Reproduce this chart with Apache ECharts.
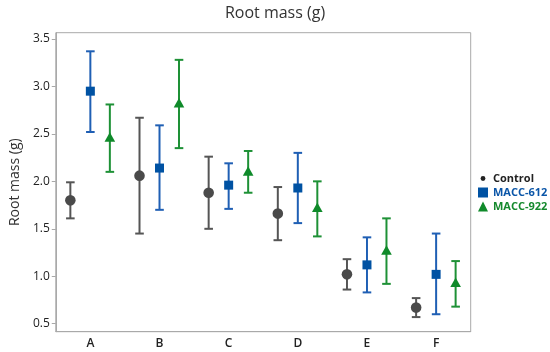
<!DOCTYPE html>
<html>
<head>
<meta charset="utf-8">
<script src="https://cdn.jsdelivr.net/npm/echarts@6/dist/echarts.min.js"></script>
<style>html,body{margin:0;padding:0;background:#fff}#c{width:550px;height:352px}</style>
</head>
<body>
<div id="c"></div>
<script>
const categories = ['A', 'B', 'C', 'D', 'E', 'F'];
const yTicks = [0.5, 1.0, 1.5, 2.0, 2.5, 3.0, 3.5];

const controlMean = [1.80, 2.06, 1.88, 1.66, 1.02, 0.67];
const controlLow  = [1.61, 1.45, 1.50, 1.38, 0.86, 0.57];
const controlHigh = [1.99, 2.67, 2.26, 1.94, 1.18, 0.77];

const macc612Mean = [2.95, 2.14, 1.96, 1.93, 1.12, 1.02];
const macc612Low  = [2.52, 1.70, 1.71, 1.56, 0.83, 0.60];
const macc612High = [3.37, 2.59, 2.19, 2.30, 1.41, 1.45];

const macc922Mean = [2.46, 2.82, 2.10, 1.72, 1.27, 0.93];
const macc922Low  = [2.10, 2.35, 1.88, 1.42, 0.92, 0.68];
const macc922High = [2.81, 3.28, 2.32, 2.00, 1.61, 1.16];

function rows(mean, low, high) {
  return categories.map((c, i) => [i, low[i], mean[i], high[i]]);
}

function makeRender(offset, shape, lineColor, fillColor) {
  return function (params, api) {
    const idx = api.value(0);
    const pLow = api.coord([idx, api.value(1)]);
    const pMean = api.coord([idx, api.value(2)]);
    const pHigh = api.coord([idx, api.value(3)]);
    const x = pMean[0] + offset;
    const lw = 2, cap = 4.3;
    const ls = { stroke: lineColor, lineWidth: lw };
    const children = [
      { type: 'line', shape: { x1: x, y1: pHigh[1], x2: x, y2: pLow[1] }, style: ls },
      { type: 'line', shape: { x1: x - cap, y1: pHigh[1], x2: x + cap, y2: pHigh[1] }, style: ls },
      { type: 'line', shape: { x1: x - cap, y1: pLow[1], x2: x + cap, y2: pLow[1] }, style: ls }
    ];
    const y = pMean[1];
    if (shape === 'circle') {
      children.push({ type: 'circle', shape: { cx: x, cy: y, r: 5.3 }, style: { fill: fillColor } });
    } else if (shape === 'rect') {
      children.push({ type: 'rect', shape: { x: x - 4.5, y: y - 4.5, width: 9, height: 9 }, style: { fill: fillColor } });
    } else {
      children.push({ type: 'polygon', shape: { points: [[x, y - 5.5], [x + 5.3, y + 4], [x - 5.3, y + 4]] }, style: { fill: fillColor } });
    }
    return { type: 'group', children: children };
  };
}

const ctrlIcon = 'image://data:image/svg+xml;utf8,' + encodeURIComponent('<svg xmlns="http://www.w3.org/2000/svg" width="10" height="10"><circle cx="5" cy="5" r="2.4" fill="#222"/></svg>');

const chart = echarts.init(document.getElementById('c'), null, { renderer: 'canvas' });
chart.setOption({
  animation: false,
  textStyle: { fontFamily: 'Open Sans' },
  title: {
    text: 'Root mass (g)', left: 'center', top: 0,
    textStyle: { fontSize: 16, fontWeight: 'normal', color: '#333', fontFamily: 'Open Sans' }
  },
  legend: {
    orient: 'vertical', left: 473, top: 168, itemWidth: 10, itemHeight: 10, itemGap: 3,
    textStyle: { fontSize: 11, fontWeight: 'bold', fontFamily: 'Open Sans' },
    data: [
      { name: 'Control', icon: ctrlIcon, textStyle: { color: '#222' } },
      { name: 'MACC-612', icon: 'rect', itemStyle: { color: '#0052a3' }, textStyle: { color: '#0b56a8' } },
      { name: 'MACC-922', icon: 'triangle', itemStyle: { color: '#0f8a2a' }, textStyle: { color: '#15892d' } }
    ]
  },
  grid: {
    left: 49.5, top: 32.7, right: 79.3, bottom: 20.3,
    show: true, borderColor: '#a9a9a9', borderWidth: 1
  },
  xAxis: {
    type: 'category', data: categories, boundaryGap: true,
    axisLine: { lineStyle: { color: '#a9a9a9' } },
    axisTick: { alignWithLabel: true, length: 4, lineStyle: { color: '#a9a9a9' } },
    axisLabel: { fontSize: 12, fontWeight: 600, color: '#222', margin: 6 },
    splitLine: { show: false }
  },
  yAxis: {
    type: 'value', min: 0.416, max: 3.566,
    name: 'Root mass (g)', nameLocation: 'middle', nameGap: 32, nameRotate: 90,
    nameTextStyle: { fontSize: 14, color: '#333' },
    axisLine: { show: true, lineStyle: { color: '#a9a9a9' } },
    axisTick: { show: true, length: 4, customValues: yTicks, lineStyle: { color: '#a9a9a9' } },
    axisLabel: { fontSize: 12, color: '#222', margin: 6, customValues: yTicks, formatter: v => v.toFixed(1) },
    splitLine: { show: false }
  },
  series: [
    { name: 'Control', type: 'custom', itemStyle: { color: '#444' }, renderItem: makeRender(-20, 'circle', '#555', '#4a4a4a'), data: rows(controlMean, controlLow, controlHigh), encode: { x: 0, y: [1, 2, 3] } },
    { name: 'MACC-612', type: 'custom', itemStyle: { color: '#0052a3' }, renderItem: makeRender(0, 'rect', '#1f5fb4', '#0052a3'), data: rows(macc612Mean, macc612Low, macc612High), encode: { x: 0, y: [1, 2, 3] } },
    { name: 'MACC-922', type: 'custom', itemStyle: { color: '#0f8a2a' }, renderItem: makeRender(19.5, 'triangle', '#1e9136', '#0f8a2a'), data: rows(macc922Mean, macc922Low, macc922High), encode: { x: 0, y: [1, 2, 3] } }
  ]
});
</script>
</body>
</html>
